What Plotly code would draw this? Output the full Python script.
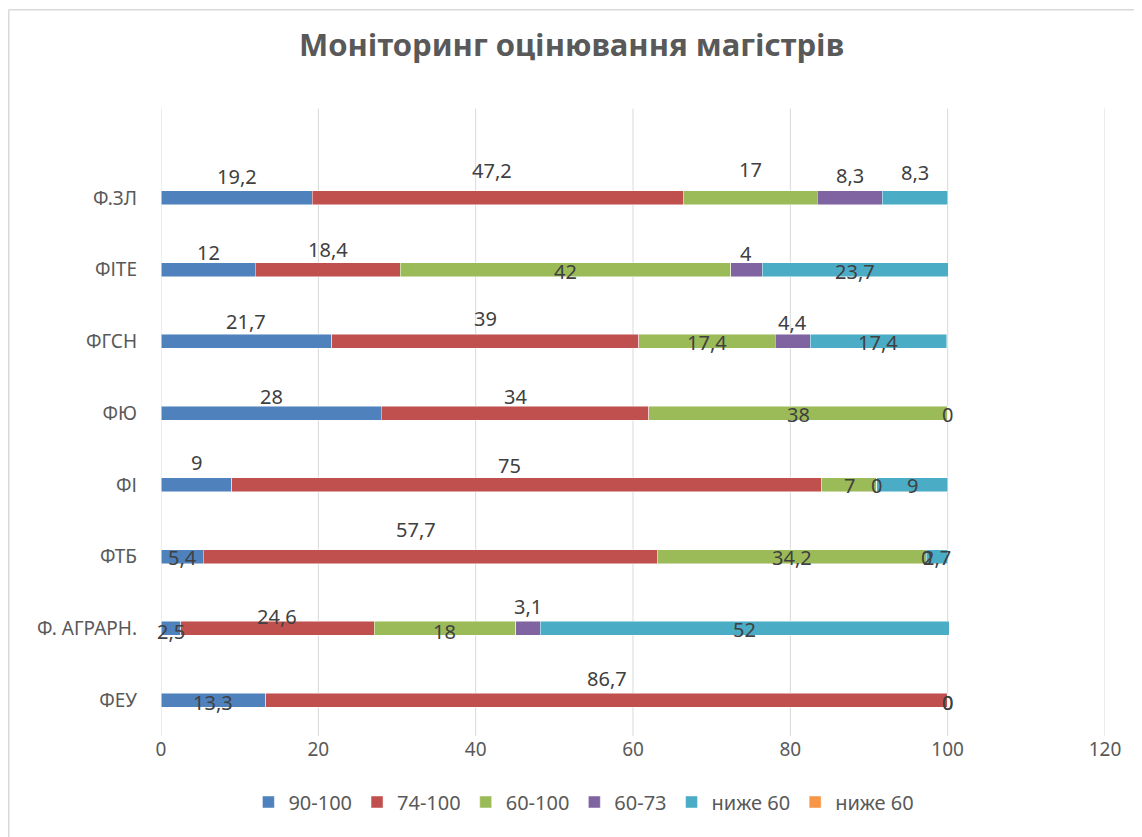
import plotly.graph_objects as go

# categories from bottom to top, as on the y axis
categories = ["ФЕУ", "Ф. АГРАРН.", "ФТБ", "ФІ", "ФЮ", "ФГСН", "ФІТЕ", "Ф.ЗЛ"]

series_names = ["90-100", "74-100", "60-100", "60-73", "ниже 60", "ниже 60"]
s_90_100 = [13.3, 2.5, 5.4, 9, 28, 21.7, 12, 19.2]
s_74_100 = [86.7, 24.6, 57.7, 75, 34, 39, 18.4, 47.2]
s_60_100 = [0, 18, 34.2, 7, 38, 17.4, 42, 17]
s_60_73 = [0, 3.1, 0, 0, 0, 4.4, 4, 8.3]
s_below_60 = [None, 52, 2.7, 9, None, 17.4, 23.7, 8.3]
s_below_60_b = [None, None, None, None, None, None, None, None]

x_ticks = [0, 20, 40, 60, 80, 100, 120]

colors = ["#4F81BD", "#C0504D", "#9BBB59", "#8064A2", "#4BACC6", "#F79646"]

# manual label placement (Excel labels were dragged around), px up / px right
label_lift = {
    "ФЕУ": [-2, 22, -2, -2, 0],
    "Ф. АГРАРН.": [-3, 12, -3, 22, -1],
    "ФТБ": [-1, 27, -1, -1, -1],
    "ФІ": [22, 19, -1, -1, -1],
    "ФЮ": [17, 17, -1, -1, 0],
    "ФГСН": [20, 23, -1, 19, -1],
    "ФІТЕ": [17, 20, -2, 16, -2],
    "Ф.ЗЛ": [21, 27, 28, 22, 25],
}
label_nudge = {("Ф.ЗЛ", 1): -6, ("ФІ", 1): -17, ("ФТБ", 1): -14}

all_series = [s_90_100, s_74_100, s_60_100, s_60_73, s_below_60, s_below_60_b]

FONT = "Noto Sans"
W, H = 1134, 829          # page body has an 8px margin
PL, PR, PT, PB = 153, 37, 153.5, 101
PW, PH = W - PL - PR, H - PT - PB

fig = go.Figure()
for name, vals, col in zip(series_names, all_series, colors):
    fig.add_trace(go.Bar(
        y=categories,
        x=vals,
        name=name,
        orientation="h",
        marker=dict(color=col, line=dict(color="rgba(255,255,255,0.6)", width=0.8)),
        hoverinfo="x+name",
    ))

# data labels: centre of each segment
annotations = []
for ci, cat in enumerate(categories):
    left = 0.0
    for si, vals in enumerate(all_series[:5]):
        v = vals[ci]
        if v is None:
            continue
        txt = f"{v:g}".replace(".", ",")
        annotations.append(dict(
            x=left + v / 2, y=cat, xref="x", yref="y",
            text=txt, showarrow=False,
            yshift=label_lift[cat][si],
            xshift=label_nudge.get((cat, si), 0),
            font=dict(family=FONT, size=20, color="#404040"),
        ))
        left += v

fig.update_layout(
    width=W, height=H,
    barmode="stack",
    bargap=0.805,
    paper_bgcolor="white",
    plot_bgcolor="rgba(0,0,0,0)",
    margin=dict(l=PL, r=PR, t=PT, b=PB, autoexpand=False),
    title=dict(
        text="<b>Моніторинг оцінювання магістрів</b>",
        x=0.497, xref="container", xanchor="center",
        y=1 - 37 / H, yref="container", yanchor="middle",
        font=dict(family=FONT, size=31, color="#595959"),
    ),
    xaxis=dict(
        range=[0, 120],
        tickvals=x_ticks,
        showgrid=False,
        zeroline=False, showline=False,
        tickfont=dict(family=FONT, size=19, color="#595959"),
        fixedrange=True,
    ),
    yaxis=dict(
        categoryorder="array", categoryarray=categories,
        range=[-0.5, len(categories) - 0.5],
        domain=[0, 1],
        showgrid=False, showline=False, zeroline=False,
        ticklabelstandoff=23,
        tickfont=dict(family=FONT, size=19, color="#595959"),
    ),
    legend=dict(
        orientation="h",
        x=0.448, xanchor="center",
        y=-0.115, yanchor="middle",
        font=dict(family=FONT, size=20, color="#595959"),
        traceorder="normal",
        itemwidth=30,
    ),
    annotations=annotations,
    showlegend=True,
)

# gridlines run from the axis up to just under the title
grid_top = (PT + PH - 100) / PH
for t in x_ticks:
    fig.add_shape(type="line", xref="x", yref="paper",
                  x0=t, x1=t, y0=0, y1=grid_top,
                  line=dict(color="#D9D9D9", width=1), layer="below")

# chart frame (only top and left edges are visible in the crop)
fx0 = (0.75 - PL) / PW
fy0 = (PH + PT - 1) / PH
fig.add_shape(type="line", xref="paper", yref="paper",
              x0=fx0, x1=(W - PL) / PW, y0=fy0, y1=fy0,
              line=dict(color="#D9D9D9", width=1.5))
fig.add_shape(type="line", xref="paper", yref="paper",
              x0=fx0, x1=fx0, y0=fy0, y1=-PB / PH,
              line=dict(color="#D9D9D9", width=1.5))

fig.write_html("out.html")
